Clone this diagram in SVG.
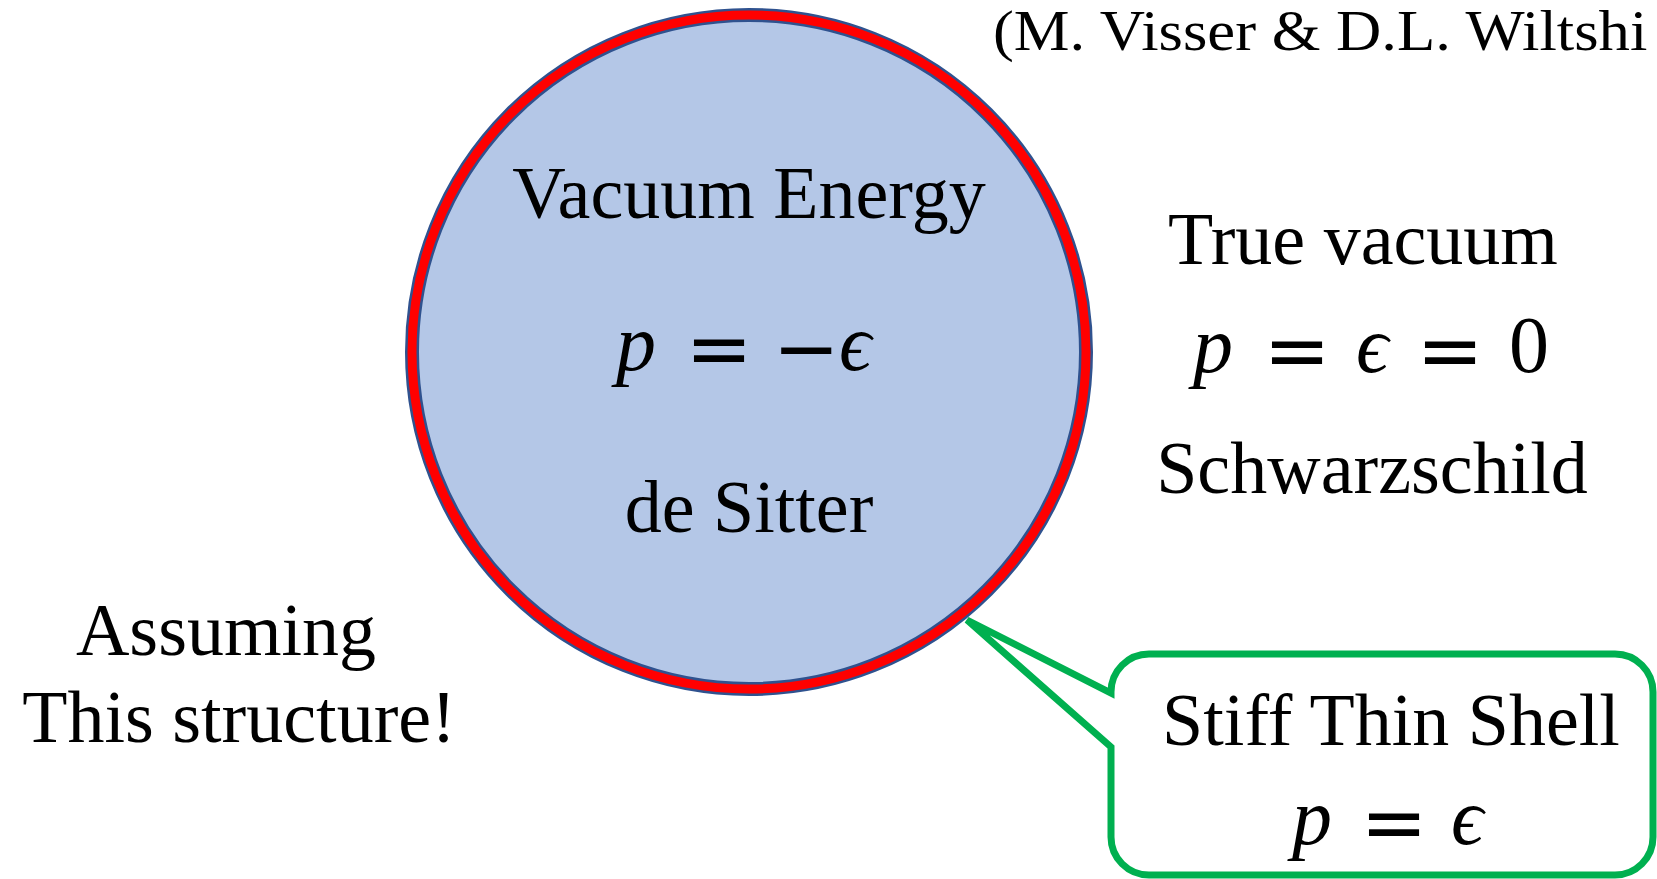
<svg xmlns="http://www.w3.org/2000/svg" width="1657" height="879" viewBox="0 0 1657 879">
<style>
.t{font-family:"Liberation Serif","Times New Roman",serif;font-size:74px;fill:#000;text-anchor:middle}
.mi{font-family:"Liberation Serif","DejaVu Serif",serif;font-style:italic;font-size:80px;fill:#000;text-anchor:middle}
.mr{font-family:"Liberation Serif","DejaVu Serif",serif;font-size:80px;fill:#000;text-anchor:middle}
.op{font-family:"DejaVu Sans",sans-serif;font-size:80px;fill:#000;text-anchor:middle}
</style>
<rect width="1657" height="879" fill="#fff"/>
<g id="callout">
<path d="M1149,654 H1615 A38,38 0 0 1 1653,692 V837 A38,38 0 0 1 1615,875 H1149 A38,38 0 0 1 1111,837 V747 L967,620 L1111,693 V692 A38,38 0 0 1 1149,654 Z" fill="#fff" stroke="#00B050" stroke-width="7" stroke-linejoin="miter"/>
<text class="t" x="1391" y="745">Stiff Thin Shell</text>
<text class="mi" x="1312" y="844">p</text>
<text class="op" x="1394" y="850">=</text>
<text class="mi" x="1467" y="844">ϵ</text>
</g>
<g id="bubble">
<circle cx="749" cy="352" r="337" fill="#B4C7E7" stroke="#2F528F" stroke-width="14"/>
<circle cx="749" cy="352" r="337" fill="none" stroke="#FF0000" stroke-width="9"/>
<text class="t" x="749" y="218">Vacuum Energy</text>
<text class="mi" x="636" y="370">p</text>
<text class="op" x="719" y="376">=</text>
<text class="op" x="806" y="376">−</text>
<text class="mi" x="855" y="370">ϵ</text>
<text class="t" x="749" y="532">de Sitter</text>
</g>
<g id="outside">
<text class="t" x="1363" y="264">True vacuum</text>
<text class="mi" x="1213" y="372">p</text>
<text class="op" x="1297" y="378">=</text>
<text class="mi" x="1372" y="372">ϵ</text>
<text class="op" x="1450" y="378">=</text>
<text class="mr" x="1529" y="372">0</text>
<text class="t" x="1372" y="493">Schwarzschild</text>
</g>
<g id="assumption">
<text class="t" x="226" y="655">Assuming</text>
<text class="t" x="239" y="742">This structure!</text>
</g>
<g id="reference">
<text transform="translate(993,50) scale(1.08,1)" style="font-family:'Liberation Serif','Times New Roman',serif;font-size:58px;fill:#000">(M. Visser &amp; D.L. Wiltshi</text>
</g>
<g id="connectors"></g>
</svg>
